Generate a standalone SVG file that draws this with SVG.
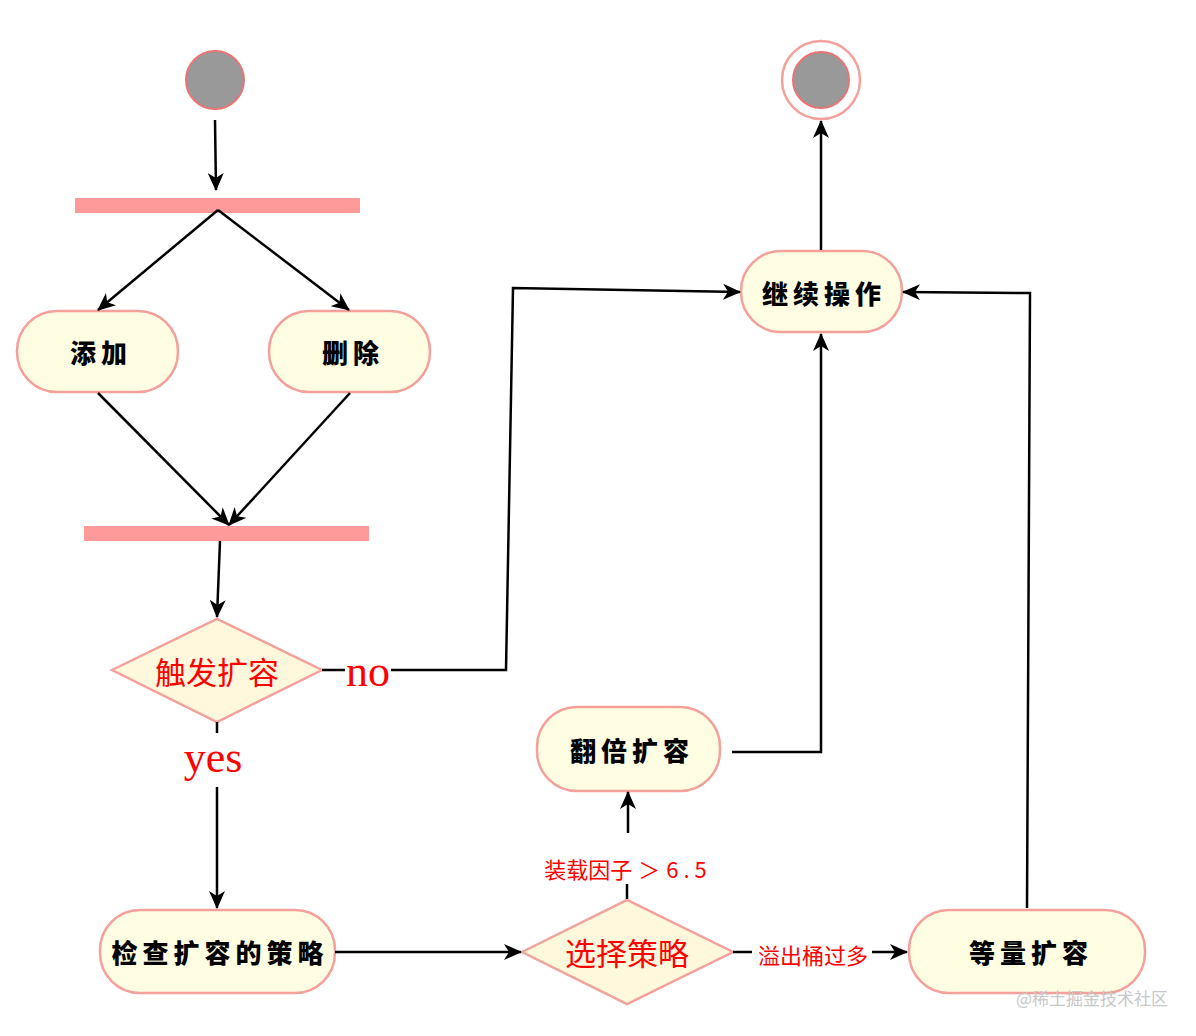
<svg xmlns="http://www.w3.org/2000/svg" width="1196" height="1036" viewBox="0 0 1196 1036">
<defs>
<marker id="arr" markerUnits="userSpaceOnUse" markerWidth="18" markerHeight="16" viewBox="0 0 18 16" refX="17" refY="8" orient="auto">
<path d="M0,0 L18,8 L0,16 L5,8 Z" fill="#000"/>
</marker>
<style>
.node{fill:#fffee3;stroke:#f4a09b;stroke-width:2.5}
.dia{fill:#fff8dc;stroke:#f4a09b;stroke-width:2.5}
.bar{fill:#ff9a9a}
.lbl{font-family:"Noto Sans CJK SC","Noto Sans CJK JP",sans-serif;font-weight:900;font-size:26px;letter-spacing:5px;fill:#000;text-anchor:middle;dominant-baseline:central}
.dtx{font-family:"Noto Sans CJK SC",sans-serif;font-size:31px;fill:#ff0000;text-anchor:middle;dominant-baseline:central}
.edge{font-family:"Noto Sans CJK SC",sans-serif;font-size:22px;fill:#ff0000;text-anchor:middle;dominant-baseline:central}
.yn{font-family:"Liberation Serif",serif;font-size:44px;fill:#ff0000;text-anchor:middle}
.ln{fill:none;stroke:#000;stroke-width:2.5}
.la{fill:none;stroke:#000;stroke-width:2.5;marker-end:url(#arr)}
</style>
</defs>
<rect width="1196" height="1036" fill="#fff"/>

<g id="start"><circle cx="215" cy="80" r="29" fill="#999" stroke="#e87474" stroke-width="2"/></g>
<g id="end"><circle cx="821" cy="80" r="39" fill="#fff" stroke="#f4a09b" stroke-width="2.5"/><circle cx="821" cy="80" r="28" fill="#999" stroke="#e87474" stroke-width="2"/></g>

<g id="fork"><rect class="bar" x="75" y="198" width="285" height="15"/></g>
<g id="join"><rect class="bar" x="84" y="526" width="285" height="15"/></g>

<g id="add"><rect class="node" x="17" y="311" width="161" height="81" rx="40"/><text class="lbl" x="101" y="351">添加</text></g>
<g id="del"><rect class="node" x="269" y="311" width="161" height="81" rx="40"/><text class="lbl" x="353" y="351">删除</text></g>
<g id="continue"><rect class="node" x="741" y="251" width="161" height="81" rx="40"/><text class="lbl" x="824" y="292">继续操作</text></g>
<g id="double"><rect class="node" x="537" y="707" width="183" height="84" rx="40"/><text class="lbl" x="632" y="749">翻倍扩容</text></g>
<g id="check"><rect class="node" x="100" y="910" width="235" height="83" rx="40"/><text class="lbl" x="220" y="951">检查扩容的策略</text></g>
<g id="same"><rect class="node" x="909" y="910" width="236" height="83" rx="40"/><text class="lbl" x="1031" y="951">等量扩容</text></g>

<g id="trigger"><polygon class="dia" points="112,670 217,619 322,670 217,722"/><text class="dtx" x="217" y="670">触发扩容</text></g>
<g id="choose"><polygon class="dia" points="522,952 627,900 733,952 627,1004"/><text class="dtx" x="627" y="951">选择策略</text></g>

<g id="connectors">
<path class="la" d="M215,120 L216,190"/>
<path class="la" d="M218,210 L98,310"/>
<path class="la" d="M218,210 L349,310"/>
<path class="la" d="M98,393 L229,525"/>
<path class="la" d="M350,393 L229,525"/>
<path class="la" d="M220,541 L217,617"/>
<path class="ln" d="M322,670 L345,670"/>
<path class="la" d="M391,670 L506,670 L513,288 L740,292"/>
<text class="yn" x="368" y="686">no</text>
<path class="ln" d="M217,722 L217,733"/>
<path class="la" d="M217,787 L217,908"/>
<text class="yn" x="213" y="772">yes</text>
<path class="la" d="M335,952 L521,952"/>
<path class="ln" d="M627,899 L627,884"/>
<path class="la" d="M628,833 L628,792"/>
<text class="edge" x="628" y="868">装载因子<tspan dx="6">＞</tspan><tspan dx="6" letter-spacing="5">6.5</tspan></text>
<path class="ln" d="M733,952 L752,952"/>
<path class="la" d="M872,952 L907,952"/>
<text class="edge" x="813" y="954">溢出桶过多</text>
<path class="la" d="M732,752 L821,752 L821,334"/>
<path class="la" d="M821,250 L821,121"/>
<path class="la" d="M1027,908 L1030,293 L903,292"/>
</g>
<text x="1168" y="1005" text-anchor="end" font-family="Noto Sans CJK SC,sans-serif" font-size="17" fill="#c8c8c8">@稀土掘金技术社区</text>
</svg>
